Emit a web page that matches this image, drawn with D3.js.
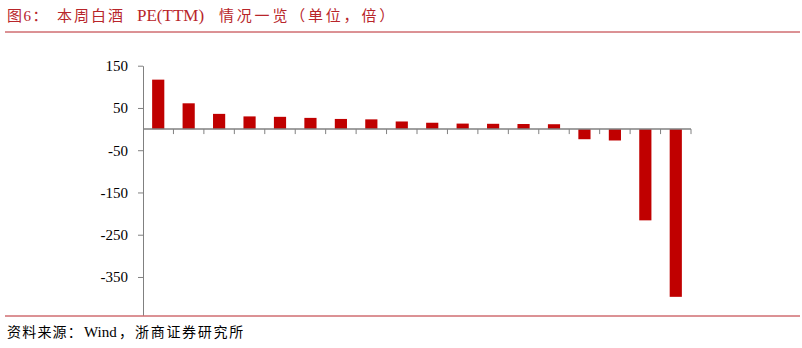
<!DOCTYPE html>
<html>
<head>
<meta charset="utf-8">
<script src="https://cdn.jsdelivr.net/npm/d3@7"></script>
<style>
  body { margin: 0; background: #fff; }
  svg { display: block; }
</style>
</head>
<body>
<script>
const categories = ['c1', 'c2', 'c3', 'c4', 'c5', 'c6', 'c7', 'c8', 'c9', 'c10', 'c11', 'c12', 'c13', 'c14', 'c15', 'c16', 'c17', 'c18'];
const peValues = [117, 61, 36, 30, 29, 26.5, 24, 23, 18, 15, 13, 12.5, 12, 11.5, -24, -27, -216, -397];
const yTicks = [150, 50, -50, -150, -250, -350];

const width = 802;
const height = 348;
const red = '#c00000';
const titleRed = '#b8252a';
const font = '"Liberation Serif", "Times New Roman", "Noto Sans CJK SC", serif';

const svg = d3
  .select('body')
  .append('svg')
  .attr('width', width)
  .attr('height', height);

// title pieces: [text, x, letter-spacing]
const titleParts = [
  ['图6：', 7, 1.5],
  ['本周白酒', 57, 2],
  ['PE(TTM)', 137, 0],
  ['情况一览（单位，倍）', 219, 2.8]
];

const title = svg
  .append('text')
  .attr('y', 21)
  .attr('fill', titleRed)
  .style('font-family', font)
  .style('font-size', '15px');

title
  .selectAll('tspan')
  .data(titleParts)
  .enter()
  .append('tspan')
  .attr('x', (d) => d[1])
  .style('letter-spacing', (d) => d[2] + 'px')
  .style('font-size', (d) => (d[2] === 0 ? '17px' : '15px'))
  .text((d) => d[0]);

svg
  .append('line')
  .attr('x1', 5)
  .attr('x2', 800)
  .attr('y1', 32)
  .attr('y2', 32)
  .style('stroke', titleRed)
  .style('stroke-width', 1);

const x = d3.scaleBand().domain(categories).range([143, 691]);
const y = d3.scaleLinear().domain([-440, 150]).range([315, 65.7]);

// bars
svg
  .selectAll('.bar')
  .data(peValues)
  .enter()
  .append('rect')
  .attr('class', 'bar')
  .attr('x', (d, i) => x(categories[i]) + x.bandwidth() * 0.3)
  .attr('width', x.bandwidth() * 0.4)
  .attr('y', (d) => y(Math.max(0, d)))
  .attr('height', (d) => Math.abs(y(d) - y(0)))
  .style('fill', red);

// y axis
const yAxis = svg
  .append('g')
  .attr('transform', 'translate(143,0)')
  .call(
    d3
      .axisLeft(y)
      .tickValues(yTicks)
      .tickFormat((d) => String(d))
      .tickSize(5)
      .tickPadding(10)
      .tickSizeOuter(0)
  );

yAxis.select('.domain').style('stroke', '#808080');
yAxis.selectAll('.tick line').style('stroke', '#808080');
yAxis
  .selectAll('.tick text')
  .style('font-family', font)
  .style('font-size', '15px')
  .attr('fill', '#000');

// x axis at zero, ticks at category boundaries
const xAxis = svg.append('g').attr('transform', `translate(0,${y(0)})`);

xAxis
  .append('line')
  .attr('x1', 143)
  .attr('x2', 691)
  .style('stroke', '#808080')
  .style('stroke-width', 1.5);

xAxis
  .selectAll('.xtick')
  .data(categories)
  .enter()
  .append('line')
  .attr('class', 'xtick')
  .attr('x1', (d) => x(d) + x.bandwidth())
  .attr('x2', (d) => x(d) + x.bandwidth())
  .attr('y1', 0)
  .attr('y2', 5)
  .style('stroke', '#808080');

// footer
svg
  .append('line')
  .attr('x1', 5)
  .attr('x2', 800)
  .attr('y1', 316)
  .attr('y2', 316)
  .style('stroke', titleRed)
  .style('stroke-width', 1);

const footerParts = [
  ['资料来源：', 7, 1.2, '14px'],
  ['Wind', 84, 0, '15px'],
  ['，', 119, 0, '14px'],
  ['浙商证券研究所', 135, 1.7, '14px']
];

const footer = svg
  .append('text')
  .attr('y', 337)
  .attr('fill', '#000')
  .style('font-family', font);

footer
  .selectAll('tspan')
  .data(footerParts)
  .enter()
  .append('tspan')
  .attr('x', (d) => d[1])
  .style('letter-spacing', (d) => d[2] + 'px')
  .style('font-size', (d) => d[3])
  .text((d) => d[0]);
</script>
</body>
</html>
